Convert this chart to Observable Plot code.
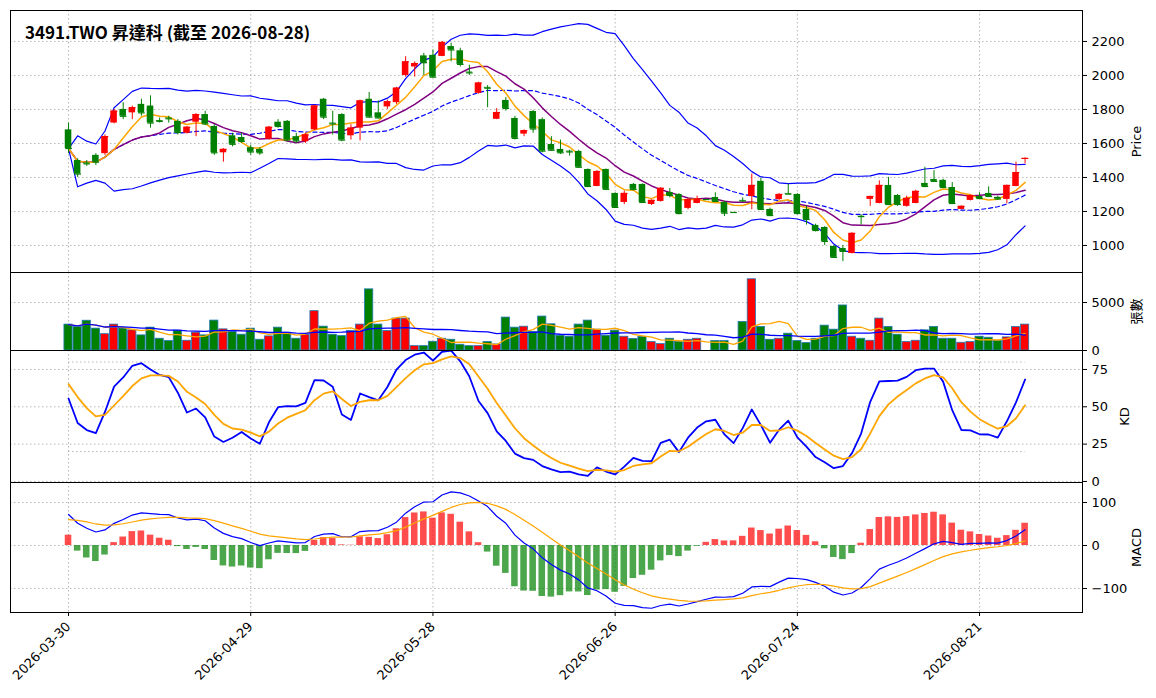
<!DOCTYPE html>
<html><head><meta charset="utf-8">
<script src="https://cdn.jsdelivr.net/npm/d3@7"></script>
<script src="https://cdn.jsdelivr.net/npm/@observablehq/plot@0.6"></script>
<style>
body{margin:0;background:#fff;font-family:"DejaVu Sans","Noto Sans CJK TC",sans-serif;}
#wrap{position:relative;width:1156px;}
#wrap svg{display:block;}
#title{position:absolute;left:25px;top:19px;font-size:17px;font-weight:bold;font-family:"Noto Sans CJK TC","DejaVu Sans",sans-serif;}
</style></head><body>
<div id="wrap"><div id="title">3491.TWO 昇達科 (截至 2026-08-28)</div></div>
<script>
const opens=[1680,1500,1485,1530,1540,1720,1800,1780,1830,1820,1735,1750,1730,1660,1725,1770,1700,1545,1645,1635,1575,1565,1625,1725,1730,1640,1610,1680,1860,1720,1770,1645,1690,1860,1780,1815,1840,2000,2050,2115,2118,2112,2170,2145,2020,1895,1930,1742,1853,1747,1655,1788,1740,1594,1565,1555,1553,1447,1347,1447,1306,1253,1359,1359,1241,1259,1312,1300,1218,1247,1270,1282,1253,1194,1265,1288,1377,1212,1270,1306,1300,1212,1118,1106,994,982,953,1172,1271,1247,1353,1294,1230,1247,1365,1388,1383,1341,1212,1265,1288,1306,1283,1271,1347,1506];
const closes=[1570,1420,1480,1490,1640,1790,1760,1810,1780,1720,1730,1745,1665,1695,1770,1715,1545,1565,1595,1612,1550,1545,1695,1700,1620,1615,1650,1820,1755,1715,1620,1690,1850,1755,1750,1845,1925,2080,2070,2075,1990,2194,2150,2065,2015,1955,1925,1782,1806,1630,1675,1685,1555,1560,1545,1550,1460,1347,1435,1330,1224,1306,1330,1253,1265,1336,1294,1188,1270,1272,1270,1259,1190,1194,1262,1353,1212,1176,1300,1302,1188,1153,1088,1024,930,965,1071,1170,1288,1353,1241,1241,1277,1318,1347,1377,1341,1247,1230,1294,1276,1288,1273,1353,1429,1512];
const highs=[1720,1510,1500,1540,1650,1800,1840,1820,1860,1880,1750,1760,1740,1700,1775,1790,1710,1570,1660,1660,1590,1575,1700,1740,1735,1660,1660,1825,1865,1790,1775,1710,1855,1900,1850,1855,1930,2110,2080,2130,2150,2200,2190,2160,2060,1960,1940,1805,1870,1760,1680,1795,1750,1640,1620,1560,1560,1450,1440,1450,1310,1320,1365,1362,1268,1340,1335,1305,1275,1290,1270,1310,1260,1194,1280,1420,1395,1220,1305,1360,1305,1230,1125,1110,1000,1000,1075,1180,1290,1380,1400,1300,1290,1325,1460,1440,1390,1370,1232,1296,1310,1345,1290,1355,1490,1515];
const lows=[1540,1400,1465,1470,1530,1715,1740,1740,1760,1690,1720,1720,1650,1655,1640,1705,1530,1490,1580,1600,1530,1530,1620,1690,1610,1600,1600,1675,1740,1650,1610,1620,1615,1750,1745,1800,1830,1990,1990,2000,1985,2110,2080,2050,2000,1890,1810,1740,1790,1620,1640,1660,1545,1555,1535,1525,1455,1340,1345,1325,1220,1240,1320,1250,1235,1255,1280,1180,1210,1245,1270,1255,1170,1194,1255,1210,1205,1170,1265,1300,1180,1120,1080,1000,925,905,950,1120,1230,1245,1235,1230,1225,1245,1340,1370,1335,1240,1210,1262,1270,1282,1265,1245,1345,1480];
const volumes=[2700,2450,3100,2280,1700,2700,2280,2100,1575,2380,1225,980,2065,1015,1855,1575,3115,2200,1925,1645,2275,1120,1470,2380,1855,1225,1645,4100,2485,1645,1500,2030,2700,6370,2700,2030,3325,3325,455,455,910,1225,1120,600,455,455,880,630,3430,2380,2480,1925,3535,2730,1540,1435,2700,3115,2170,1540,2065,1435,1190,1400,875,665,1225,910,1120,1225,0,980,980,0,2975,7420,2450,1120,1225,1750,980,770,1225,2590,2170,4690,1435,1225,1015,3325,2450,1645,875,1015,2100,2450,1225,1225,805,875,1435,1330,1015,1365,2450,2700];
const tickIdx=[0,20,40,60,80,100];
const tickLabels=["2026-03-30","2026-04-29","2026-05-28","2026-06-26","2026-07-24","2026-08-21"];
const macdStart={dif:72,dea:60}; const kdStart={k:75,d:70};

const RED="#ff0000", GREEN="#008000";
const n=closes.length;
const idx=d3.range(n);
const win=(arr,i,p)=>arr.slice(Math.max(0,i-p+1),i+1);
const ma=(arr,p)=>idx.map(i=>d3.mean(win(arr,i,p)));
const ma5=ma(closes,5), ma10=ma(closes,10), ma20=ma(closes,20);
const sd20=idx.map(i=>{const w=win(closes,i,20);const m=d3.mean(w);return Math.sqrt(d3.mean(w,v=>(v-m)*(v-m)));});
const bbU=idx.map(i=>ma20[i]+2*sd20[i]);
const bbL=idx.map(i=>ma20[i]-2*sd20[i]);
const vma5=ma(volumes,5), vma20=ma(volumes,20);
const K=[],D=[];let pk=kdStart.k,pd=kdStart.d;
idx.forEach(i=>{const hh=d3.max(win(highs,i,9)),ll=d3.min(win(lows,i,9));const rsv=hh===ll?50:(closes[i]-ll)/(hh-ll)*100;pk=pk*2/3+rsv/3;pd=pd*2/3+pk/3;K.push(pk);D.push(pd);});
let e12=closes[0]+macdStart.dif/2,e26=closes[0]-macdStart.dif/2,dea=macdStart.dea;const DIF=[],DEA=[],HIST=[];
idx.forEach(i=>{if(i>0){e12=e12+(closes[i]-e12)*2/13;e26=e26+(closes[i]-e26)*2/27;}const dif=e12-e26;if(i>0)dea=dea+(dif-dea)*2/10;DIF.push(dif);DEA.push(dea);HIST.push(2*(dif-dea));});

const rows=idx.map(i=>({i,o:opens[i],c:closes[i],h:highs[i],l:lows[i],v:volumes[i],col:closes[i]>opens[i]?RED:GREEN,
 ma5:ma5[i],ma10:ma10[i],ma20:ma20[i],u:bbU[i],lo:bbL[i],vma5:vma5[i],vma20:vma20[i],k:K[i],d:D[i],dif:DIF[i],dea:DEA[i],hist:HIST[i]}));

const xs={domain:[-6.37,111.3],type:"linear"};
const grid=(ticks)=>[Plot.gridX(tickIdx,{stroke:"#999",strokeOpacity:0.7,strokeDasharray:"1.5,2.5"}),Plot.gridY(ticks,{stroke:"#999",strokeOpacity:0.7,strokeDasharray:"1.5,2.5"})];
const common={width:1156,marginLeft:10,marginRight:74,style:{fontSize:"13px",fontFamily:"DejaVu Sans, Noto Sans CJK TC, sans-serif",background:"#fff",overflow:"visible"}};
const yAx=(ticks,label,off,fmt)=>Plot.axisY(ticks,{anchor:"right",label,labelAnchor:"center",labelArrow:"none",labelOffset:off,tickSize:4,fontSize:13,tickFormat:fmt||(d=>String(d))});
const noX=Plot.axisX(tickIdx,{tickSize:0,label:null,tickFormat:()=>""});

const pTicks=[1000,1200,1400,1600,1800,2000,2200];
const price=Plot.plot({...common,height:272,marginTop:10,marginBottom:0,x:xs,y:{domain:[841,2382]},marks:[
 ...grid(pTicks),
 Plot.line(rows,{x:"i",y:"u",stroke:"blue",strokeWidth:1.2}),
 Plot.line(rows,{x:"i",y:"lo",stroke:"blue",strokeWidth:1.2}),
 Plot.line(rows,{x:"i",y:"ma20",stroke:"blue",strokeWidth:1.2,strokeDasharray:"4,3"}),
 Plot.line(rows,{x:"i",y:"ma10",stroke:"purple",strokeWidth:1.5}),
 Plot.line(rows,{x:"i",y:"ma5",stroke:"orange",strokeWidth:1.5}),
 Plot.ruleX(rows,{x:"i",y1:"l",y2:"h",stroke:"col",strokeWidth:1}),
 Plot.rect(rows,{x1:d=>d.i-0.36,x2:d=>d.i+0.36,y1:"o",y2:"c",fill:"col"}),
 Plot.link(rows,{x1:d=>d.i-0.36,x2:d=>d.i+0.36,y1:"c",y2:"c",stroke:"col",strokeWidth:1.2}),
 yAx(pTicks,"Price",58),noX,Plot.frame({stroke:"black"})]});

const vol=Plot.plot({...common,height:78,marginTop:0,marginBottom:0,x:xs,y:{domain:[0,8125]},marks:[
 ...grid([0,5000]),
 Plot.rect(rows,{x1:d=>d.i-0.45,x2:d=>d.i+0.45,y1:0,y2:"v",fill:"col",stroke:"#1f77b4",strokeWidth:0.8}),
 Plot.line(rows,{x:"i",y:"vma5",stroke:"orange",strokeWidth:1.3}),
 Plot.line(rows,{x:"i",y:"vma20",stroke:"blue",strokeWidth:1.3}),
 yAx([0,5000],"張數",58),noX,Plot.frame({stroke:"black"})]});

const kd=Plot.plot({...common,height:132,marginTop:0,marginBottom:0,x:xs,y:{domain:[-0.7,87.7]},marks:[
 ...grid([0,25,50,75]),
 Plot.ruleY([20,80],{x1:0,x2:n-1,stroke:"#aaa",strokeWidth:0.8,strokeDasharray:"1.5,2.5"}),
 Plot.line(rows,{x:"i",y:"k",stroke:"blue",strokeWidth:1.8}),
 Plot.line(rows,{x:"i",y:"d",stroke:"orange",strokeWidth:1.8}),
 yAx([0,25,50,75],"KD",46),noX,Plot.frame({stroke:"black"})]});

const macd=Plot.plot({...common,height:216,marginTop:0,marginBottom:86,x:xs,y:{domain:[-155.8,146.5]},marks:[
 ...grid([-100,0,100]),
 Plot.rect(rows,{x1:d=>d.i-0.36,x2:d=>d.i+0.36,y1:0,y2:"hist",fill:d=>d.hist>=0?RED:GREEN,fillOpacity:0.7}),
 Plot.line(rows,{x:"i",y:"dif",stroke:"blue",strokeWidth:1.2}),
 Plot.line(rows,{x:"i",y:"dea",stroke:"orange",strokeWidth:1.2}),
 yAx([-100,0,100],"MACD",58,d=>d<0?"\u2212"+(-d):String(d)),
 Plot.axisX(tickIdx,{tickSize:4,tickRotate:-45,textAnchor:"end",fontSize:13,label:null,tickFormat:i=>tickLabels[tickIdx.indexOf(i)]}),
 Plot.frame({stroke:"black"})]});

const w=document.getElementById("wrap");
[price,vol,kd,macd].forEach(p=>w.appendChild(p));
</script></body></html>
